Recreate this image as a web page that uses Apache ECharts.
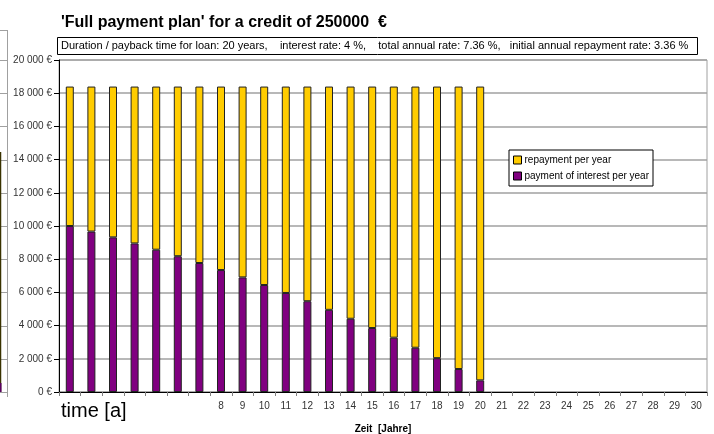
<!DOCTYPE html>
<html>
<head>
<meta charset="utf-8">
<style>
  html, body { margin: 0; padding: 0; background: #ffffff; }
  #chart { width: 714px; height: 434px; }
</style>
<script src="https://cdn.jsdelivr.net/npm/echarts@6/dist/echarts.min.js"></script>
</head>
<body>
<div id="chart"></div>
<script>
// Repayment schedule of an annuity loan: 250 000 €, 4 % interest, 18 400 € per year
const years = ['1','2','3','4','5','6','7','8','9','10','11','12','13','14','15',
               '16','17','18','19','20','21','22','23','24','25','26','27','28','29','30'];
const interestPerYear = [10000, 9664, 9315, 8951, 8573, 8180, 7771, 7346, 6904, 6444,
                         5966, 5469, 4951, 4413, 3854, 3272, 2667, 2038, 1383, 702];
const repaymentPerYear = [8400, 8736, 9085, 9449, 9827, 10220, 10629, 11054, 11496, 11956,
                          12434, 12931, 13449, 13987, 14546, 15128, 15733, 16362, 17017, 17698];
const yTicks = { min: 0, max: 20000, step: 2000 };
const hiddenYearLabels = 7;   // first years sit under the "time [a]" caption

const titleText = "'Full payment plan' for a credit of 250000  €";
const infoText = 'Duration / payback time for loan: 20 years,    interest rate: 4 %,    total annual rate: 7.36 %,   initial annual repayment rate: 3.36 %';

function euro(v) {
  const s = String(Math.round(v)).replace(/\B(?=(\d{3})+(?!\d))/g, ' ');
  return s + ' €';
}

const chart = echarts.init(document.getElementById('chart'), null, { renderer: 'canvas' });

// neighbouring chart edge visible at the far left
const edgeGraphics = [];
edgeGraphics.push({ type: 'line', shape: { x1: 7.5, y1: 30, x2: 7.5, y2: 397 },
  style: { stroke: '#a0a0a0', lineWidth: 1 }, silent: true });
edgeGraphics.push({ type: 'line', shape: { x1: 0, y1: 30.5, x2: 7.5, y2: 30.5 },
  style: { stroke: '#a0a0a0', lineWidth: 1 }, silent: true });
for (let v = yTicks.min; v <= yTicks.max; v += yTicks.step) {
  const y = Math.round(392 - v / yTicks.max * 332) + 0.5;
  edgeGraphics.push({ type: 'line', shape: { x1: 0, y1: y, x2: 7.5, y2: y },
    style: { stroke: '#a0a0a0', lineWidth: 1 }, silent: true });
}
edgeGraphics.push({ type: 'line', shape: { x1: 0.5, y1: 152, x2: 0.5, y2: 392 },
  style: { stroke: '#3a3300', lineWidth: 1.5 }, silent: true });
edgeGraphics.push({ type: 'rect', shape: { x: 0, y: 383, width: 1.5, height: 9 },
  style: { fill: '#5a0060' }, silent: true });

chart.setOption({
  animation: false,
  backgroundColor: '#ffffff',
  textStyle: { fontFamily: 'Liberation Sans, Arial, sans-serif' },
  title: {
    text: titleText,
    left: 56, top: 10,
    textStyle: { fontSize: 16, fontWeight: 'bold', color: '#000000', fontFamily: 'Liberation Sans, Arial, sans-serif' }
  },
  grid: { left: 59, right: 7, top: 60, bottom: 42, containLabel: false,
          outerBoundsMode: 'none',
          show: true, borderColor: '#a0a0a0', borderWidth: 1 },
  legend: {
    orient: 'vertical',
    left: 509, top: 150,
    padding: [5, 4, 5, 4],
    itemGap: 6,
    itemWidth: 8, itemHeight: 8,
    backgroundColor: '#ffffff',
    borderColor: '#000000', borderWidth: 1,
    textStyle: { fontSize: 10, color: '#000000', padding: [0, 0, 0, -2] },
    data: [
      { name: 'repayment per year', icon: 'rect', itemStyle: { borderColor: '#000', borderWidth: 1 } },
      { name: 'payment of interest per year', icon: 'rect', itemStyle: { borderColor: '#000', borderWidth: 1 } }
    ]
  },
  xAxis: {
    type: 'category',
    data: years,
    boundaryGap: true,
    name: 'Zeit  [Jahre]',
    nameLocation: 'middle',
    nameGap: 32,
    nameTextStyle: { fontSize: 10, fontWeight: 'bold', color: '#000000' },
    axisLine: { lineStyle: { color: '#000000', width: 1 } },
    axisTick: { show: true, alignWithLabel: false, length: 4, lineStyle: { color: '#808080' } },
    axisLabel: {
      fontSize: 10, color: '#333333', margin: 9, interval: 0,
      formatter: function (v, i) { return i < hiddenYearLabels ? '' : v; }
    },
    splitLine: { show: false }
  },
  yAxis: {
    type: 'value',
    min: yTicks.min, max: yTicks.max, interval: yTicks.step,
    axisLine: { show: true, lineStyle: { color: '#000000', width: 1 } },
    axisTick: { show: true, length: 5, lineStyle: { color: '#000000' } },
    axisLabel: { fontSize: 10, color: '#333333', margin: 7, formatter: euro },
    splitLine: { show: true, lineStyle: { color: '#a0a0a0', width: 1.5 } }
  },
  series: [
    {
      name: 'payment of interest per year',
      type: 'bar',
      stack: 'annuity',
      data: interestPerYear,
      barWidth: 8,
      itemStyle: { color: '#800080', borderColor: '#222222', borderWidth: 1 }
    },
    {
      name: 'repayment per year',
      type: 'bar',
      stack: 'annuity',
      data: repaymentPerYear,
      barWidth: 8,
      itemStyle: { color: '#FFCC00', borderColor: '#222222', borderWidth: 1 }
    }
  ],
  graphic: [
    {
      type: 'rect',
      shape: { x: 57.5, y: 37.5, width: 640, height: 17 },
      style: { fill: '#ffffff', stroke: '#000000', lineWidth: 1 },
      z: 10
    },
    {
      type: 'text',
      left: 61, top: 40,
      style: { text: infoText, fontSize: 11, fill: '#000000',
               fontFamily: 'Liberation Sans Narrow, Liberation Sans, Arial, sans-serif' },
      z: 11
    },
    {
      type: 'text',
      left: 61, top: 401,
      style: { text: 'time [a]', fontSize: 20, fill: '#000000',
               fontFamily: 'Liberation Sans, Arial, sans-serif' },
      z: 11
    }
  ].concat(edgeGraphics)
});
</script>
</body>
</html>
